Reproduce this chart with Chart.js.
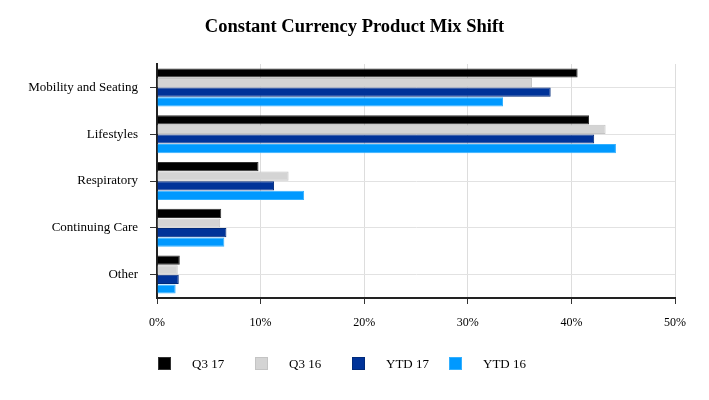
<!DOCTYPE html>
<html>
<head>
<meta charset="utf-8">
<script src="https://cdn.jsdelivr.net/npm/chart.js@4"></script>
<style>
  html, body { margin: 0; padding: 0; background: #fff; }
  #wrap { position: relative; width: 709px; height: 400px; }
  #title { position: absolute; left: 0; top: 16px; width: 709px; text-align: center; line-height: 22px;
           font: bold 18.5px "Liberation Serif", "Times New Roman", serif; color: #000; }
  #legend { position: absolute; left: 158px; top: 356px; font: 13px "Liberation Serif", "Times New Roman", serif; color: #000; }
  .item { position: absolute; top: 0; width: 97px; white-space: nowrap; }
  .box { position: absolute; left: 0; top: 1px; width: 13px; height: 13px; box-sizing: border-box; border: 1px solid; }
  .txt { position: absolute; left: 34px; top: 0; line-height: 15px; }
</style>
</head>
<body>
<div id="wrap">
  <canvas id="mixChart" width="709" height="400"></canvas>
  <div id="title">Constant Currency Product Mix Shift</div>
  <div id="legend"></div>
</div>
<script>
// categories and series (percent of sales)
var categories = ['Mobility and Seating', 'Lifestyles', 'Respiratory', 'Continuing Care', 'Other'];
var seriesNames = ['Q3 17', 'Q3 16', 'YTD 17', 'YTD 16'];
var q317 = [40.6, 41.7, 9.8, 6.2, 2.2];
var q316 = [36.2, 43.3, 12.7, 6.1, 2.0];
var ytd17 = [38.0, 42.2, 11.3, 6.7, 2.1];
var ytd16 = [33.4, 44.3, 14.2, 6.5, 1.8];
var xTicks = [0, 10, 20, 30, 40, 50];

var fills = ['#000000', '#d4d4d4', '#003399', '#0099ff'];
var edges = ['#333333', '#c4c4c4', '#002a7a', '#33b0ff'];
var values = [q317, q316, ytd17, ytd16];

var serif = '"Liberation Serif", "Times New Roman", serif';

var datasets = [];
for (var i = 0; i < seriesNames.length; i++) {
  datasets.push({
    label: seriesNames[i],
    data: values[i],
    backgroundColor: fills[i],
    borderColor: edges[i],
    borderWidth: 1,
    categoryPercentage: 0.82,
    barPercentage: 0.96
  });
}

//legend below the plot
var legend = document.getElementById('legend');
for (var j = 0; j < seriesNames.length; j++) {
  var it = document.createElement('div');
  it.className = 'item';
  it.style.left = (j * 97) + 'px';
  it.innerHTML = '<span class="box" style="background:' + fills[j] + ';border-color:' + edges[j] + '"></span>' +
    '<span class="txt">' + seriesNames[j] + '</span>';
  legend.appendChild(it);
}

var ctx = document.getElementById('mixChart').getContext('2d');
var myChart = new Chart(ctx, {
  type: 'bar',
  data: { labels: categories, datasets: datasets },
  options: {
    indexAxis: 'y',
    responsive: false,
    animation: false,
    layout: { padding: { left: 0, right: 34, top: 64, bottom: 68 } },
    plugins: {
      legend: { display: false },
      tooltip: { enabled: false },
      title: { display: false }
    },
    scales: {
      x: {
        min: 0,
        max: 50,
        afterBuildTicks: function(scale) {
          scale.ticks = xTicks.map(function(v) { return { value: v }; });
        },
        afterFit: function(scale) { scale.height = 34; },
        ticks: {
          color: '#000',
          font: { family: serif, size: 12 },
          padding: 12,
          callback: function(v) { return v + '%'; }
        },
        grid: { color: '#dddddd', tickColor: '#333', tickLength: 6 },
        border: { display: true, color: '#222', width: 2 }
      },
      y: {
        afterFit: function(scale) { scale.width = 157; },
        ticks: {
          color: '#000',
          font: { family: serif, size: 13 },
          padding: 12
        },
        grid: { offset: false, color: '#e2e2e2', tickColor: '#333', tickLength: 7 },
        border: { display: true, color: '#222', width: 2 }
      }
    }
  }
});
</script>
</body>
</html>
